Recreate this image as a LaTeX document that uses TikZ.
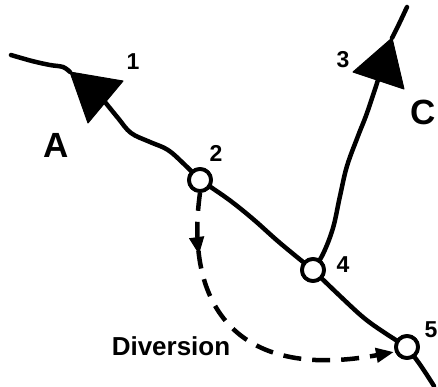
\documentclass[tikz,border=0pt]{standalone}
\usepackage{fontspec}
\setmainfont{Liberation Sans}
\usetikzlibrary{arrows.meta,decorations.markings}
\tikzset{
  road/.style={line width=4.5pt, line cap=round, line join=round},
  junction/.style={circle, draw, fill=white, line width=3.8pt, minimum size=22pt, inner sep=0pt},
  bigtri/.style={fill=black, draw=black, line width=1pt, line join=round},
  divline/.style={line width=4.5pt, dash pattern=on 18pt off 11pt},
  numlab/.style={font=\bfseries\fontsize{23}{23}\selectfont, inner sep=0pt},
  biglab/.style={font=\bfseries\fontsize{35}{35}\selectfont, inner sep=0pt},
  divlab/.style={font=\bfseries\fontsize{26}{26}\selectfont, inner sep=0pt},
}
\begin{document}
\begin{tikzpicture}[x=1pt,y=-1pt]
\useasboundingbox (0,0) rectangle (438,386);
% named points
\coordinate (t1apex) at (70,72);
\coordinate (t1b1) at (123,81);
\coordinate (t1b2) at (88,123);
\coordinate (t3apex) at (392,38);
\coordinate (t3b1) at (353,72);
\coordinate (t3b2) at (404,89);
\node[junction] (n2) at (200,180) {};
\node[junction] (n4) at (313,270) {};
\node[junction] (n5) at (407,347) {};
% roads
\draw[road] plot[smooth, tension=0.6] coordinates {(11,55) (32,61) (50,65) (63,67) (70,72)};
\draw[road] plot[smooth, tension=0.6] coordinates {(105,102) (118,118) (131,133) (150,142) (168,150) (185,165) (200,180)};
\draw[road] plot[smooth, tension=0.6] coordinates {(200,180) (228,199) (253,219) (280,243) (313,270)};
\draw[road] plot[smooth, tension=0.6] coordinates {(313,270) (340,296) (364,318) (385,333) (407,347)};
\draw[road] plot[smooth, tension=0.6] coordinates {(407,347) (421,366) (434,386)};
\draw[road] plot[smooth, tension=0.6] coordinates {(313,270) (323,254) (333,228) (340,196) (347,166) (358,136) (367,113) (378,80)};
\draw[road] plot[smooth, tension=0.6] coordinates {(392,38) (399,24) (407,7)};
% direction triangles
\fill[bigtri] (t1apex) -- (t1b1) -- (t1b2) -- cycle;
\fill[bigtri] (t3apex) -- (t3b1) -- (t3b2) -- cycle;
% junctions on top
\node[junction] at (n2) {};
\node[junction] at (n4) {};
\node[junction] at (n5) {};
% diversion
\draw[divline,
  decoration={markings, mark=at position 0.2 with {\arrow[solid]{Triangle[length=18pt,width=14pt]}}},
  postaction={decorate},
  -{Triangle[length=18pt,width=14pt]}]
  (n2.south) .. controls (185,300) and (232,382) .. (394,352);
% labels
\node[numlab] (l1) at (133,62) {1};
\node[numlab] (l2) at (216,153) {2};
\node[numlab] (l3) at (343,60) {3};
\node[numlab] (l4) at (343,265) {4};
\node[numlab] (l5) at (431,330) {5};
\node[biglab] (la) at (56,145) {A};
\node[biglab] (lc) at (423,112) {C};
\node[divlab] (ld) at (171,346) {Diversion};
\end{tikzpicture}
\end{document}
